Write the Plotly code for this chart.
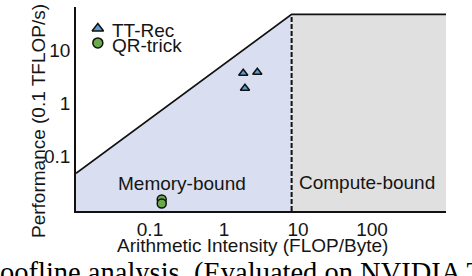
import plotly.graph_objects as go

# ---- data ----
roof_ai = [0.01, 8.2, 1000]          # arithmetic intensity of roofline vertices
roof_perf = [0.048, 48, 48]          # performance of roofline vertices
tt_ai = [1.82, 2.82, 1.92]
tt_perf = [3.72, 3.89, 1.94]
qr_ai = [0.144, 0.144]
qr_perf = [0.0154, 0.0129]
x_ticks = [0.1, 1, 10, 100]
x_ticktext = ["0.1", "1", "10", "100"]
y_ticks = [0.1, 1, 10]
y_ticktext = ["0.1", "1", "10"]
series_names = ["TT-Rec", "QR-trick"]

X_RANGE = [-2.0, 3.0]
Y_RANGE = [-2.03, 1.82]
y_floor = 10 ** Y_RANGE[0]
x_max = 10 ** X_RANGE[1]

FONT = "Liberation Sans, Arial, sans-serif"
FS = 19
BLUE = "#5b9bd5"
GREEN = "#6aaa4a"
TXT = "#151515"

fig = go.Figure()

# memory-bound region
fig.add_trace(go.Scatter(
    x=[roof_ai[0], roof_ai[0], roof_ai[1], roof_ai[1], roof_ai[0]],
    y=[y_floor, roof_perf[0], roof_perf[1], y_floor, y_floor],
    fill="toself", fillcolor="#d9dff0", line=dict(width=0),
    mode="lines", hoverinfo="skip", showlegend=False))
# compute-bound region
fig.add_trace(go.Scatter(
    x=[roof_ai[1], roof_ai[1], x_max, x_max, roof_ai[1]],
    y=[y_floor, roof_perf[1], roof_perf[2], y_floor, y_floor],
    fill="toself", fillcolor="#e0e0e0", line=dict(width=0),
    mode="lines", hoverinfo="skip", showlegend=False))
# roofline
fig.add_trace(go.Scatter(x=roof_ai, y=roof_perf, mode="lines",
                         line=dict(color="#111111", width=1.8),
                         hoverinfo="skip", showlegend=False))
# ridge dashed line
fig.add_trace(go.Scatter(x=[roof_ai[1], roof_ai[1]], y=[y_floor, roof_perf[1]],
                         mode="lines",
                         line=dict(color="#111111", width=2, dash="5px,2px"),
                         hoverinfo="skip", showlegend=False))

# data points
fig.add_trace(go.Scatter(x=tt_ai, y=tt_perf, mode="markers", name=series_names[0],
                         marker=dict(symbol="triangle-up", size=8, color=BLUE,
                                     line=dict(color="#111111", width=1.5)),
                         showlegend=False))
fig.add_trace(go.Scatter(x=qr_ai, y=qr_perf, mode="markers", name=series_names[1],
                         marker=dict(symbol="circle", size=9, color=GREEN,
                                     line=dict(color="#111111", width=1.5)),
                         showlegend=False))

# custom legend glyphs on an overlay axis (0..1)
fig.add_trace(go.Scatter(x=[0.059], y=[0.895], mode="markers", xaxis="x2", yaxis="y2",
                         marker=dict(symbol="triangle-up", size=10, color=BLUE,
                                     line=dict(color="#111111", width=1.5)),
                         hoverinfo="skip", showlegend=False))
fig.add_trace(go.Scatter(x=[0.059], y=[0.824], mode="markers", xaxis="x2", yaxis="y2",
                         marker=dict(symbol="circle", size=10, color=GREEN,
                                     line=dict(color="#111111", width=1.5)),
                         hoverinfo="skip", showlegend=False))

annotations = [
    dict(text=series_names[0], x=0.092, y=0.887, xref="paper", yref="paper",
         xanchor="left", yanchor="middle", showarrow=False,
         font=dict(family=FONT, size=FS, color=TXT)),
    dict(text=series_names[1], x=0.092, y=0.809, xref="paper", yref="paper",
         xanchor="left", yanchor="middle", showarrow=False,
         font=dict(family=FONT, size=FS, color=TXT)),
    dict(text="Memory-bound", x=0.286, y=0.137, xref="paper", yref="paper",
         xanchor="center", yanchor="middle", showarrow=False,
         font=dict(family=FONT, size=FS, color=TXT)),
    dict(text="Compute-bound", x=0.786, y=0.142, xref="paper", yref="paper",
         xanchor="center", yanchor="middle", showarrow=False,
         font=dict(family=FONT, size=FS, color=TXT)),
    dict(text="Arithmetic Intensity (FLOP/Byte)", x=(252 - 76) / 370, y=(211 - 245) / 204,
         xref="paper", yref="paper", xanchor="center", yanchor="middle", showarrow=False,
         font=dict(family=FONT, size=FS, color=TXT)),
    dict(text="Performance (0.1 TFLOP/s)", x=(38 - 76) / 370, y=(211 - 121) / 204,
         xref="paper", yref="paper", xanchor="center", yanchor="middle", showarrow=False,
         textangle=-90, font=dict(family=FONT, size=FS, color=TXT)),
    dict(text="Roofline analysis. (Evaluated on NVIDIA T4)", x=(-21 - 76) / 370,
         y=(211 - 273) / 204, xref="paper", yref="paper", xanchor="left",
         yanchor="middle", showarrow=False,
         font=dict(family="Liberation Serif, Times New Roman, serif", size=28.5, color="#000000")),
]

fig.update_layout(
    width=472, height=276,
    margin=dict(l=76, r=26, t=7, b=65, autoexpand=False),
    paper_bgcolor="white", plot_bgcolor="white",
    showlegend=False,
    font=dict(family=FONT, size=FS, color=TXT),
    xaxis=dict(type="log", range=X_RANGE, tickvals=x_ticks, ticktext=x_ticktext,
               showgrid=False, zeroline=False, showline=True, linecolor="#111111",
               linewidth=1.5, ticks="", automargin=False,
               tickfont=dict(size=FS, color=TXT)),
    yaxis=dict(type="log", range=Y_RANGE, tickvals=y_ticks, ticktext=y_ticktext,
               showgrid=False, zeroline=False, showline=True, linecolor="#111111",
               linewidth=1.5, ticks="", automargin=False,
               tickfont=dict(size=FS, color=TXT)),
    xaxis2=dict(overlaying="x", range=[0, 1], visible=False, fixedrange=True),
    yaxis2=dict(overlaying="y", range=[0, 1], visible=False, fixedrange=True),
    annotations=annotations,
)

fig.write_html("out.html", config={"displayModeBar": False},
               post_script="document.body.style.margin='0';document.body.style.padding='0';")
